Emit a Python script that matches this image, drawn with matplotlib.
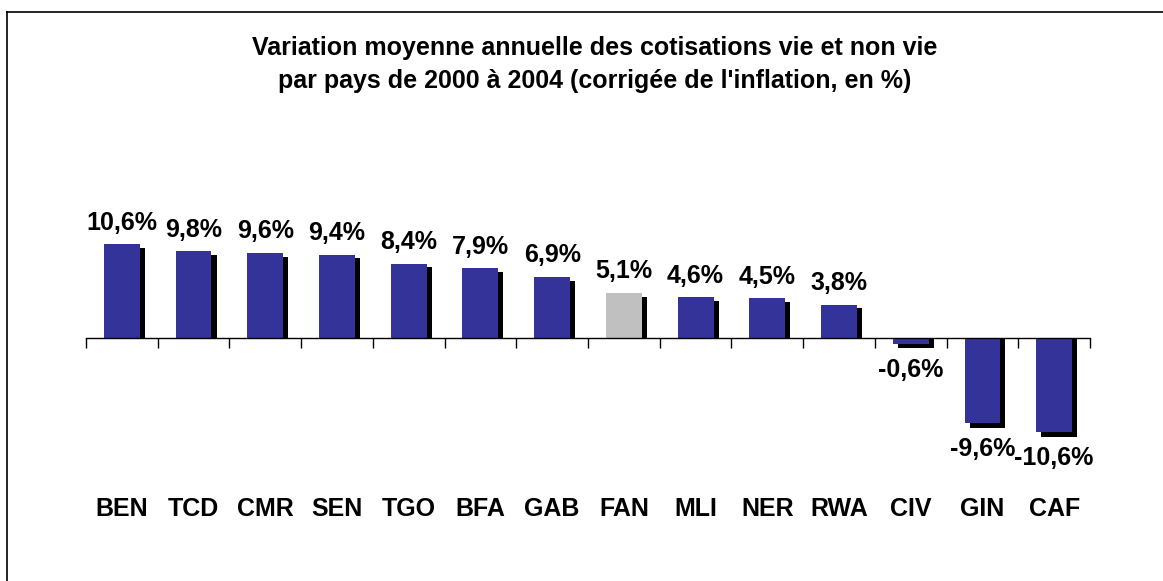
import matplotlib
matplotlib.use("Agg")
import matplotlib.pyplot as plt
from matplotlib.lines import Line2D

plt.rcParams['font.family'] = ['Liberation Sans', 'DejaVu Sans']

# données
pays = ["BEN", "TCD", "CMR", "SEN", "TGO", "BFA", "GAB", "FAN",
        "MLI", "NER", "RWA", "CIV", "GIN", "CAF"]
variation = [10.6, 9.8, 9.6, 9.4, 8.4, 7.9, 6.9, 5.1,
             4.6, 4.5, 3.8, -0.6, -9.6, -10.6]
etiquettes = ["10,6%", "9,8%", "9,6%", "9,4%", "8,4%", "7,9%", "6,9%", "5,1%",
              "4,6%", "4,5%", "3,8%", "-0,6%", "-9,6%", "-10,6%"]

bleu = "#333399"
gris = "#C0C0C0"
couleurs = [gris if p == "FAN" else bleu for p in pays]

fig = plt.figure(figsize=(11.63, 5.81), dpi=100)
ax = fig.add_axes([86 / 1163, 1 - 480 / 581, 1004 / 1163, 280 / 581])

x = list(range(len(pays)))

# ombres noires décalées
ombre_x = [i + 0.07 for i in x]
ombre_h = [v - 0.4 if v > 0 else v - 0.5 for v in variation]
ax.bar(ombre_x, ombre_h, width=0.5, color="black", zorder=1)
ax.bar(x, variation, width=0.5, color=couleurs, zorder=2)

# étiquettes de valeurs
for i, v in enumerate(variation):
    if v >= 0:
        ax.annotate(etiquettes[i], (i, v), xytext=(0, 7), textcoords="offset points",
                    ha="center", va="bottom", fontsize=18, fontweight="bold")
    else:
        ax.annotate(etiquettes[i], (i, v - 0.5), xytext=(0, -7), textcoords="offset points",
                    ha="center", va="top", fontsize=18, fontweight="bold")

# noms des pays sous le graphique
for i, p in enumerate(pays):
    ax.text(i, -19.3, p, ha="center", va="center", fontsize=18, fontweight="bold")

ax.set_xlim(-0.5, len(pays) - 0.5)
ax.set_ylim(-16, 15.6)
for s in ["top", "right", "left"]:
    ax.spines[s].set_visible(False)
ax.spines["bottom"].set_position(("data", 0))
ax.spines["bottom"].set_linewidth(1)
ax.set_xticks([i - 0.5 for i in range(len(pays) + 1)])
ax.set_xticklabels([])
ax.tick_params(axis="x", direction="out", length=7, width=1)
ax.set_yticks([])

fig.text(595 / 1163, 1 - 48 / 581, "Variation moyenne annuelle des cotisations vie et non vie",
         ha="center", va="center", fontsize=18, fontweight="bold")
fig.text(595 / 1163, 1 - 81 / 581, "par pays de 2000 à 2004 (corrigée de l'inflation, en %)",
         ha="center", va="center", fontsize=18, fontweight="bold")

# cadre
fig.add_artist(Line2D([7 / 1163, 1], [1 - 12 / 581, 1 - 12 / 581], color="black", lw=1.2,
                      transform=fig.transFigure))
fig.add_artist(Line2D([7 / 1163, 7 / 1163], [0, 1 - 12 / 581], color="black", lw=1.2,
                      transform=fig.transFigure))

plt.savefig("out.png", dpi=100)
